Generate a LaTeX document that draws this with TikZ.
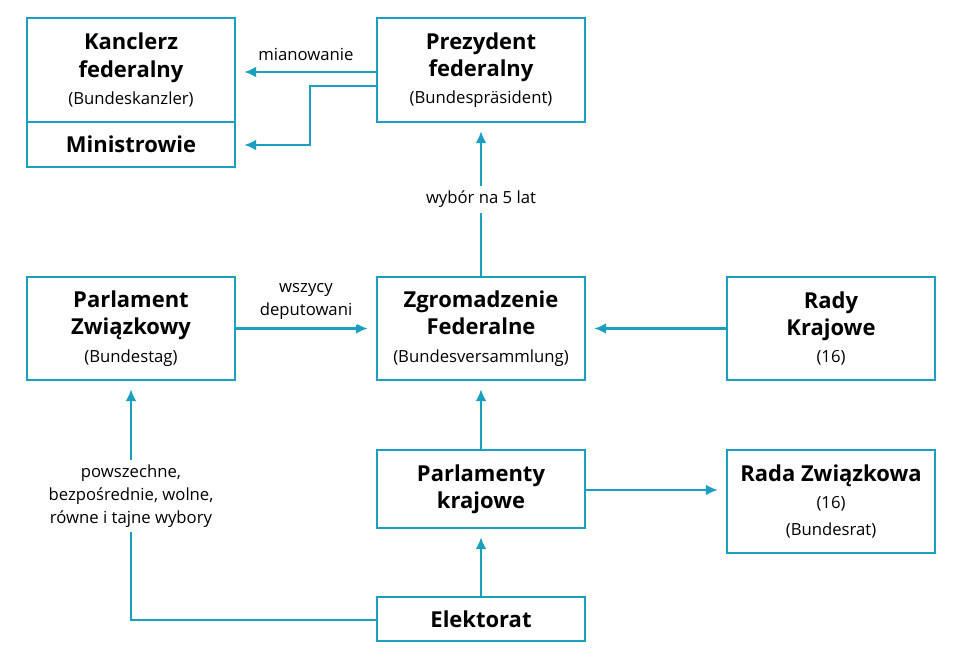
\documentclass[tikz,border=0pt]{standalone}
\usepackage{fontspec}
\setmainfont{Open Sans}
\usetikzlibrary{arrows.meta}
\definecolor{teal}{HTML}{1A9FC0}
\newcommand{\sub}[1]{{\normalfont\fontsize{9.5}{15}\selectfont #1}}
\begin{document}
\begin{tikzpicture}[
                x = 0.2mm, y = -0.2mm,
                box/.style = {draw = teal, line width = 1.4pt, minimum width = 41.6mm, align = center,
                              inner sep = 0mm, font = \bfseries\fontsize{12.5}{15.5}\selectfont},
                arr/.style = {draw = teal, line width = 1.4pt, -{Latex[length = 2.4mm, width = 2.2mm]}, shorten > = 1.6mm},
                lab/.style = {fill = white, align = center, inner sep = 1mm, font = \fontsize{9.5}{13}\selectfont},
            ]
            \useasboundingbox (0, 0) rectangle (960, 665);

            \node (K) at (131, 70) [box, minimum height = 20.8mm] {Kanclerz\\federalny\\\sub{(Bundeskanzler)}};
            \node (M) at (131, 144.5) [box, minimum height = 9mm] {Ministrowie};
            \node (P) at (481, 70) [box, minimum height = 20.8mm] {Prezydent\\federalny\\\sub{(Bundespräsident)}};

            \node (B) at (131, 328.5) [box, minimum height = 20.6mm] {Parlament\\Związkowy\\\sub{(Bundestag)}};
            \node (Z) at (481, 328.5) [box, minimum height = 20.6mm] {Zgromadzenie\\Federalne\\\sub{(Bundesversammlung)}};
            \node (R) at (831, 328.5) [box, minimum height = 20.6mm] {Rady\\Krajowe\\\sub{(16)}};

            \node (L) at (481, 489) [box, minimum height = 15.6mm] {Parlamenty\\krajowe};
            \node (S) at (831, 501.5) [box, minimum height = 20.6mm] {Rada Związkowa\\\sub{(16)}\\\sub{(Bundesrat)}};
            \node (E) at (481, 619) [box, minimum height = 8.8mm] {Elektorat};

            \coordinate (m1) at (310, 86);
            \coordinate (m2) at (310, 145);
            \coordinate (e1) at (131, 620);

            \path[arr] (P.west |- 0, 72) -- node[lab, above = 1mm] {mianowanie} (K.east |- 0, 72);
            \path[arr] (P.west |- m1) -- (m1) -- (m2) -- (M.east |- m2);
            \path[arr] (Z) -- node[lab] {wybór na 5 lat} (P);
            \path[arr] (B) -- node[lab, above = 0.5mm] {wszycy\\deputowani} (Z);
            \path[arr] (R) -- (Z);
            \path[arr] (L) -- (Z);
            \path[arr] (L.east |- 0, 490) -- (S.west |- 0, 490);
            \path[arr] (E) -- (L);
            \path[arr] (E.west |- e1) -- (e1) -- node[lab, pos = 0.52] {powszechne,\\bezpośrednie, wolne,\\równe i tajne wybory} (B);
        \end{tikzpicture}
\end{document}
